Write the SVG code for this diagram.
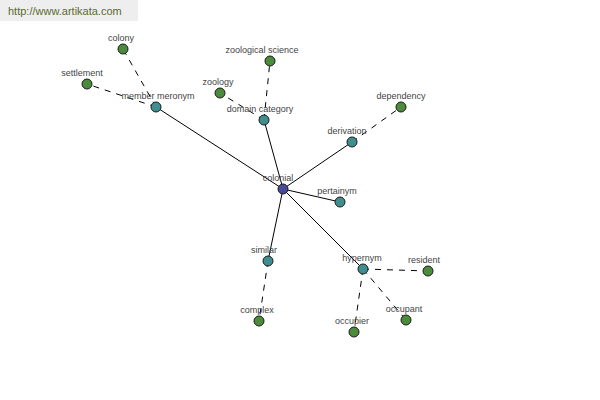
<svg xmlns="http://www.w3.org/2000/svg" width="600" height="400" viewBox="0 0 600 400">
<style>
.e{stroke:#000;stroke-width:1;fill:none}
.d{stroke-dasharray:6,6}
.n{stroke:#1a1a1a;stroke-width:1}
.c{fill:#4a4a9c}
.t1{fill:#3f8f8f}
.g{fill:#4c8a3c}
text{font-family:"Liberation Sans",Arial,sans-serif;font-size:9px;fill:#444;text-anchor:middle}
</style>
<rect x="0" y="0" width="138" height="21" fill="#eeeeee"/>
<text x="8" y="15" style="text-anchor:start;font-size:11px;fill:#5a6a30">http://www.artikata.com</text>
<g id="connectors">
<line class="e" x1="283" y1="189" x2="156" y2="107"/>
<line class="e" x1="283" y1="189" x2="264" y2="120"/>
<line class="e" x1="283" y1="189" x2="352" y2="142"/>
<line class="e" x1="283" y1="189" x2="340" y2="202"/>
<line class="e" x1="283" y1="189" x2="268" y2="261"/>
<line class="e" x1="283" y1="189" x2="363" y2="269"/>
<line class="e d" x1="156" y1="107" x2="123" y2="49"/>
<line class="e d" x1="156" y1="107" x2="87" y2="84"/>
<line class="e d" x1="264" y1="120" x2="270" y2="61"/>
<line class="e d" x1="264" y1="120" x2="220" y2="93"/>
<line class="e d" x1="352" y1="142" x2="401" y2="107"/>
<line class="e d" x1="268" y1="261" x2="259" y2="321"/>
<line class="e d" x1="363" y1="269" x2="428" y2="271"/>
<line class="e d" x1="363" y1="269" x2="354" y2="332"/>
<line class="e d" x1="363" y1="269" x2="406" y2="320"/>
</g>
<g id="colonial"><circle class="n c" cx="283" cy="189" r="5"/><text x="278" y="181">colonial</text></g>
<g id="member_meronym"><circle class="n t1" cx="156" cy="107" r="5"/><text x="158" y="99">member meronym</text></g>
<g id="colony"><circle class="n g" cx="123" cy="49" r="5"/><text x="121" y="41">colony</text></g>
<g id="settlement"><circle class="n g" cx="87" cy="84" r="5"/><text x="82" y="76">settlement</text></g>
<g id="domain_category"><circle class="n t1" cx="264" cy="120" r="5"/><text x="260" y="112">domain category</text></g>
<g id="zoological_science"><circle class="n g" cx="270" cy="61" r="5"/><text x="262" y="53">zoological science</text></g>
<g id="zoology"><circle class="n g" cx="220" cy="93" r="5"/><text x="218" y="85">zoology</text></g>
<g id="derivation"><circle class="n t1" cx="352" cy="142" r="5"/><text x="347" y="134">derivation</text></g>
<g id="dependency"><circle class="n g" cx="401" cy="107" r="5"/><text x="401" y="99">dependency</text></g>
<g id="pertainym"><circle class="n t1" cx="340" cy="202" r="5"/><text x="337" y="194">pertainym</text></g>
<g id="similar"><circle class="n t1" cx="268" cy="261" r="5"/><text x="264" y="253">similar</text></g>
<g id="complex"><circle class="n g" cx="259" cy="321" r="5"/><text x="257" y="313">complex</text></g>
<g id="hypernym"><circle class="n t1" cx="363" cy="269" r="5"/><text x="362" y="261">hypernym</text></g>
<g id="resident"><circle class="n g" cx="428" cy="271" r="5"/><text x="424" y="263">resident</text></g>
<g id="occupier"><circle class="n g" cx="354" cy="332" r="5"/><text x="352" y="324">occupier</text></g>
<g id="occupant"><circle class="n g" cx="406" cy="320" r="5"/><text x="404" y="312">occupant</text></g>
</svg>
